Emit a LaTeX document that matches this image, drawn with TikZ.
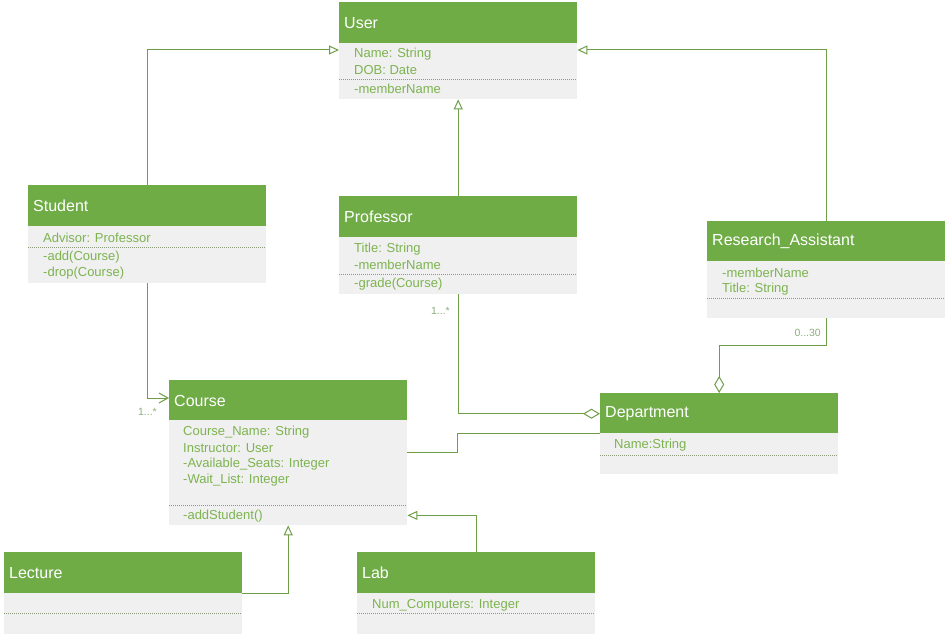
\documentclass[tikz,border=0pt]{standalone}
\usepackage{fontspec}
\setmainfont{Liberation Sans}
\usetikzlibrary{arrows.meta,calc}
\definecolor{hdr}{HTML}{6FAC46}
\definecolor{bodyfill}{HTML}{F0F0F0}
\definecolor{txt}{HTML}{7DB350}
\definecolor{ln}{HTML}{6E9F48}
\definecolor{dots}{HTML}{8A9A7A}
\definecolor{mult}{HTML}{8DAF78}
\tikzset{
  hdrbox/.style={fill=hdr, minimum height=41pt, text width=228pt, inner xsep=5pt, inner ysep=0pt,
    anchor=north west, text=white, align=left, font=\fontsize{16}{19}\selectfont},
  bodybox/.style={fill=bodyfill, minimum width=238pt, inner sep=0pt, anchor=north west},
  txtline/.style={anchor=west, inner sep=0pt, yshift=-1pt, text=txt, font=\fontsize{13}{15}\selectfont},
  divider/.style={draw=dots, line width=0.7pt, dash pattern=on 1pt off 1pt},
  conn/.style={draw=ln, line width=1pt},
  gen/.style={conn, -{Triangle[open, length=10pt, width=9pt, fill=white]}},
  nav/.style={conn, -{Straight Barb[length=9pt, width=10pt, line width=1pt]}},
  agg/.style={conn, -{Diamond[open, length=17pt, width=10pt, fill=white]}},
  multlbl/.style={inner sep=0pt, text=mult, font=\fontsize{10.5}{12}\selectfont},
}
\begin{document}
\begin{tikzpicture}[x=1pt,y=-1pt]
\path[use as bounding box, fill=white] (0,0) rectangle (948,636);

% ---- User
\node[hdrbox] (user) at (339,2) {User};
\node[bodybox, minimum height=56pt] (userb) at (339,43) {};
\node[txtline] (u1) at (354,53) {Name: String};
\node[txtline] (u2) at (354,69) {DOB: Date};
\draw[divider] (339,79) -- (577,79);
\node[txtline] (u3) at (354,88) {-memberName};

% ---- Student
\node[hdrbox] (student) at (28,185) {Student};
\node[bodybox, minimum height=57pt] (studentb) at (28,226) {};
\node[txtline] (s1) at (43,237) {Advisor: Professor};
\draw[divider] (28,247) -- (266,247);
\node[txtline] (s2) at (43,256) {-add(Course)};
\node[txtline] (s3) at (43,272) {-drop(Course)};

% ---- Professor
\node[hdrbox] (prof) at (339,196) {Professor};
\node[bodybox, minimum height=57pt] (profb) at (339,237) {};
\node[txtline] (p1) at (354,248) {Title: String};
\node[txtline] (p2) at (354,264) {-memberName};
\draw[divider] (339,274) -- (577,274);
\node[txtline] (p3) at (354,283) {-grade(Course)};

% ---- Research_Assistant
\node[hdrbox] (ra) at (707,221) {Research\_Assistant};
\node[bodybox, minimum height=57pt] (rab) at (707,261) {};
\node[txtline] (r1) at (722,272) {-memberName};
\node[txtline] (r2) at (722,288) {Title: String};
\draw[divider] (707,298) -- (945,298);

% ---- Course
\node[hdrbox] (course) at (169,380) {Course};
\node[bodybox, minimum height=105pt] (courseb) at (169,420) {};
\node[txtline] (c1) at (183,431) {Course\_Name: String};
\node[txtline] (c2) at (183,447) {Instructor: User};
\node[txtline] (c3) at (183,463) {-Available\_Seats: Integer};
\node[txtline] (c4) at (183,479) {-Wait\_List: Integer};
\draw[divider] (169,505) -- (407,505);
\node[txtline] (c5) at (183,515) {-addStudent()};

% ---- Department
\node[hdrbox] (dept) at (600,393) {Department};
\node[bodybox, minimum height=41pt] (deptb) at (600,433) {};
\node[txtline] (d1) at (614,444) {Name:String};
\draw[divider] (600,455) -- (838,455);

% ---- Lecture
\node[hdrbox] (lecture) at (4,552) {Lecture};
\node[bodybox, minimum height=41pt] (lectureb) at (4,593) {};
\draw[divider] (4,613) -- (242,613);

% ---- Lab
\node[hdrbox] (lab) at (357,552) {Lab};
\node[bodybox, minimum height=41pt] (labb) at (357,593) {};
\node[txtline] (l1) at (372,604) {Num\_Computers: Integer};
\draw[divider] (357,613) -- (595,613);

% ---- connectors
\draw[gen] (student.north) |- ([yshift=-7pt]userb.north west);
\draw[gen] (prof.north) -- (userb.south);
\draw[gen] (ra.north) |- ([yshift=-7pt]userb.north east);
\draw[nav] (studentb.south) |- ([yshift=-18pt]course.north west);
\draw[agg] (profb.south) |- (dept.west);
\draw[agg] (rab.south) -- ++(0,27) -| (dept.north);
\draw[conn] ([yshift=20pt]courseb.east) -- ++(50,0) |- (deptb.north west);
\draw[gen] (lecture.south east) -| (courseb.south);
\draw[gen] (lab.north) |- ([yshift=10pt]courseb.south east);

% ---- multiplicities
\node[multlbl, anchor=east] (m1) at (157,412) {1...*};
\node[multlbl, anchor=east] (m2) at (450,311) {1...*};
\node[multlbl, anchor=east] (m3) at (821,333) {0...30};
\end{tikzpicture}
\end{document}
